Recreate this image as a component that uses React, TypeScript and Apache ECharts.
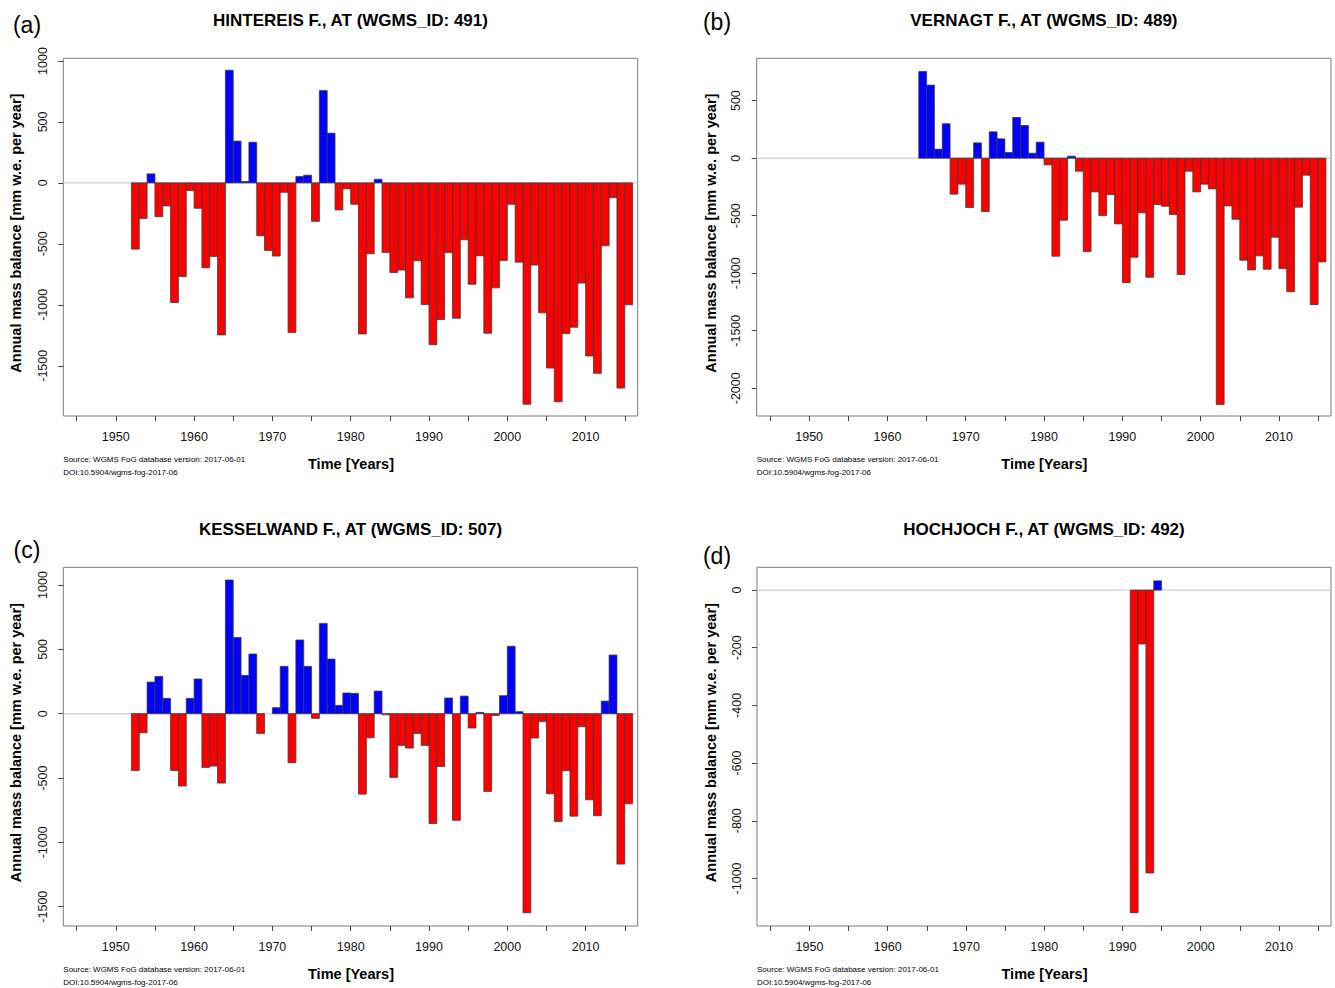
import React, { useEffect, useRef } from "react";
import * as echarts from "echarts";

// ---- tick values -------------------------------------------------------
const xTickValues = [1945, 1950, 1955, 1960, 1965, 1970, 1975, 1980, 1985, 1990, 1995, 2000, 2005, 2010, 2015];
const xLabelValues = [1950, 1960, 1970, 1980, 1990, 2000, 2010];
const yTicksA = [-1500, -1000, -500, 0, 500, 1000];
const yTicksB = [-2000, -1500, -1000, -500, 0, 500];
const yTicksC = [-1500, -1000, -500, 0, 500, 1000];
const yTicksD = [-1000, -800, -600, -400, -200, 0];

// ---- data (annual mass balance, mm w.e. per year) ------------------------
const hintereisYears = [1953, 1954, 1955, 1956, 1957, 1958, 1959, 1960, 1961, 1962, 1963, 1964, 1965, 1966, 1967, 1968, 1969, 1970, 1971, 1972, 1973, 1974, 1975, 1976, 1977, 1978, 1979, 1980, 1981, 1982, 1983, 1984, 1985, 1986, 1987, 1988, 1989, 1990, 1991, 1992, 1993, 1994, 1995, 1996, 1997, 1998, 1999, 2000, 2001, 2002, 2003, 2004, 2005, 2006, 2007, 2008, 2009, 2010, 2011, 2012, 2013, 2014, 2015, 2016];
const hintereisValues = [-543, -291, 74, -277, -189, -981, -767, -63, -208, -696, -603, -1247, 924, 343, 11, 334, -433, -554, -600, -77, -1228, 52, 63, -315, 757, 408, -222, -49, -175, -1239, -581, 30, -570, -735, -715, -943, -639, -998, -1327, -1121, -570, -1110, -466, -831, -598, -1233, -861, -636, -175, -650, -1815, -674, -1066, -1519, -1795, -1236, -1184, -822, -1420, -1562, -515, -121, -1683, -1000];

const vernagtYears = [1965, 1966, 1967, 1968, 1969, 1970, 1971, 1972, 1973, 1974, 1975, 1976, 1977, 1978, 1979, 1980, 1981, 1982, 1983, 1984, 1985, 1986, 1987, 1988, 1989, 1990, 1991, 1992, 1993, 1994, 1995, 1996, 1997, 1998, 1999, 2000, 2001, 2002, 2003, 2004, 2005, 2006, 2007, 2008, 2009, 2010, 2011, 2012, 2013, 2014, 2015, 2016];
const vernagtValues = [754, 635, 78, 299, -313, -226, -429, 133, -464, 229, 168, 49, 354, 284, 43, 139, -58, -852, -539, 17, -113, -812, -293, -499, -316, -571, -1081, -861, -475, -1035, -403, -418, -490, -1012, -113, -293, -226, -267, -2142, -415, -531, -887, -971, -849, -965, -687, -960, -1160, -426, -148, -1273, -902];

const kesselwandYears = [1953, 1954, 1955, 1956, 1957, 1958, 1959, 1960, 1961, 1962, 1963, 1964, 1965, 1966, 1967, 1968, 1969, 1970, 1971, 1972, 1973, 1974, 1975, 1976, 1977, 1978, 1979, 1980, 1981, 1982, 1983, 1984, 1985, 1986, 1987, 1988, 1989, 1990, 1991, 1992, 1993, 1994, 1995, 1996, 1997, 1998, 1999, 2000, 2001, 2002, 2003, 2004, 2005, 2006, 2007, 2008, 2009, 2010, 2011, 2012, 2013, 2014, 2015, 2016];
const kesselwandValues = [-441, -148, 246, 290, 119, -441, -562, 119, 270, -417, -407, -539, 1039, 593, 298, 464, -153, null, 47, 368, -381, 573, 368, -36, 702, 425, 65, 161, 158, -625, -187, 176, -8, -495, -246, -267, -153, -246, -853, -410, 122, -829, 137, -111, 10, -604, -13, 140, 524, 16, -1547, -189, -60, -622, -837, -443, -796, -101, -669, -793, 98, 456, -1169, -700];

const hochjochYears = [1992, 1993, 1994, 1995];
const hochjochValues = [-1119, -187, -981, 32];

const titles = [
  "HINTEREIS F., AT (WGMS_ID: 491)",
  "VERNAGT F., AT (WGMS_ID: 489)",
  "KESSELWAND F., AT (WGMS_ID: 507)",
  "HOCHJOCH F., AT (WGMS_ID: 492)",
];
const panelLetters = ["(a)", "(b)", "(c)", "(d)"];
const yAxisTitle = "Annual mass balance [mm w.e. per year]";
const xAxisTitle = "Time [Years]";
const sourceLine1 = "Source: WGMS FoG database version: 2017-06-01";
const sourceLine2 = "DOI:10.5904/wgms-fog-2017-06";

// ---- layout -------------------------------------------------------------
const FONT = '"Liberation Sans", Arial, sans-serif';
const X_MIN = 1943.3;
const X_MAX = 2016.65;

const panels = [
  { left: 63.3, top: 58.3, width: 574.4, height: 357.7, yMin: -1912, yMax: 1022, ticks: yTicksA, years: hintereisYears, values: hintereisValues, letterY: 25, yTitleX: 16 },
  { left: 756.7, top: 58.3, width: 574.3, height: 357.7, yMin: -2241, yMax: 868, ticks: yTicksB, years: vernagtYears, values: vernagtValues, letterY: 22, yTitleX: 711 },
  { left: 63.3, top: 567.3, width: 574.4, height: 358.7, yMin: -1650, yMax: 1138, ticks: yTicksC, years: kesselwandYears, values: kesselwandValues, letterY: 550, yTitleX: 16 },
  { left: 757, top: 567.3, width: 574, height: 358.7, yMin: -1165, yMax: 79, ticks: yTicksD, years: hochjochYears, values: hochjochValues, letterY: 556, yTitleX: 711 },
];

export default function App() {
  const ref = useRef<HTMLDivElement>(null);

  useEffect(() => {
    if (!ref.current) return;
    const chart = echarts.init(ref.current, undefined, { renderer: "svg" });

    const grids: any[] = [];
    const xAxes: any[] = [];
    const yAxes: any[] = [];
    const series: any[] = [];
    const graphics: any[] = [];

    panels.forEach((p, i) => {
      grids.push({
        left: p.left,
        top: p.top,
        width: p.width,
        height: p.height,
        show: true,
        borderColor: "#7a7a7a",
        borderWidth: 1,
        containLabel: false,
      });
      xAxes.push({
        type: "value",
        gridIndex: i,
        position: "bottom",
        min: X_MIN,
        max: X_MAX,
        axisLine: { show: false, onZero: false },
        splitLine: { show: false },
        axisTick: {
          show: true,
          length: 5,
          customValues: xTickValues,
          lineStyle: { color: "#444", width: 1 },
        },
        axisLabel: {
          customValues: xLabelValues,
          fontFamily: FONT,
          fontSize: 12.5,
          color: "#111",
          margin: 14,
          formatter: (v: number) => String(v),
        },
      });
      yAxes.push({
        type: "value",
        gridIndex: i,
        position: "left",
        min: p.yMin,
        max: p.yMax,
        axisLine: { show: false, onZero: false },
        splitLine: { show: false },
        axisTick: {
          show: true,
          length: 5,
          customValues: p.ticks,
          lineStyle: { color: "#444", width: 1 },
        },
        axisLabel: {
          customValues: p.ticks,
          rotate: 90,
          fontFamily: FONT,
          fontSize: 12.5,
          color: "#111",
          margin: 14,
          formatter: (v: number) => String(v),
        },
      });
      // zero reference line
      series.push({
        type: "line",
        xAxisIndex: i,
        yAxisIndex: i,
        data: [[X_MIN, 0], [X_MAX, 0]],
        showSymbol: false,
        silent: true,
        z: 1,
        lineStyle: { color: "#cfcfcf", width: 1.3 },
      });
      // bars
      series.push({
        type: "custom",
        xAxisIndex: i,
        yAxisIndex: i,
        z: 2,
        data: p.years
          .map((y, k) => [y, p.values[k]])
          .filter((d) => d[1] !== null),
        encode: { x: 0, y: 1 },
        renderItem: (params: any, api: any) => {
          const year = api.value(0);
          const v = api.value(1);
          const a = api.coord([year - 1, 0]);
          const b = api.coord([year, v]);
          return {
            type: "rect",
            shape: {
              x: a[0],
              y: Math.min(a[1], b[1]),
              width: b[0] - a[0],
              height: Math.abs(b[1] - a[1]),
            },
            style: {
              fill: v >= 0 ? "#0000ff" : "#ff0000",
              stroke: "#3a3a3a",
              lineWidth: 0.8,
            },
          };
        },
      });

      const cx = p.left + p.width / 2;
      const cy = p.top + p.height / 2;
      const letterX = i % 2 === 0 ? 27 : 717;
      // panel letter
      graphics.push({
        type: "text",
        x: letterX,
        y: p.letterY,
        style: { text: panelLetters[i], font: `23px ${FONT}`, fill: "#000", align: "center", verticalAlign: "middle" },
      });
      // title
      graphics.push({
        type: "text",
        x: cx,
        y: p.top - 38,
        style: { text: titles[i], font: `bold 17px ${FONT}`, fill: "#000", align: "center", verticalAlign: "middle" },
      });
      // y axis title
      graphics.push({
        type: "text",
        x: p.yTitleX,
        y: cy - 4,
        rotation: Math.PI / 2,
        style: { text: yAxisTitle, font: `bold 14.5px ${FONT}`, fill: "#000", align: "center", verticalAlign: "middle" },
      });
      // x axis title
      const bottom = p.top + p.height;
      graphics.push({
        type: "text",
        x: cx + 0.5,
        y: bottom + 47.5,
        style: { text: xAxisTitle, font: `bold 14.5px ${FONT}`, fill: "#000", align: "center", verticalAlign: "middle" },
      });
      // source lines
      graphics.push({
        type: "text",
        x: p.left,
        y: bottom + 43.3,
        style: { text: sourceLine1, font: `8px ${FONT}`, fill: "#000", align: "left", verticalAlign: "middle" },
      });
      graphics.push({
        type: "text",
        x: p.left,
        y: bottom + 56.7,
        style: { text: sourceLine2, font: `8px ${FONT}`, fill: "#000", align: "left", verticalAlign: "middle" },
      });
    });

    chart.setOption({
      animation: false,
      backgroundColor: "#ffffff",
      grid: grids,
      xAxis: xAxes,
      yAxis: yAxes,
      series,
      graphic: { elements: graphics },
    });

    return () => {
      chart.dispose();
    };
  }, []);

  return (
    <div
      ref={ref}
      style={{ position: "absolute", left: 0, top: 0, width: 1335, height: 988, background: "#fff" }}
    />
  );
}
